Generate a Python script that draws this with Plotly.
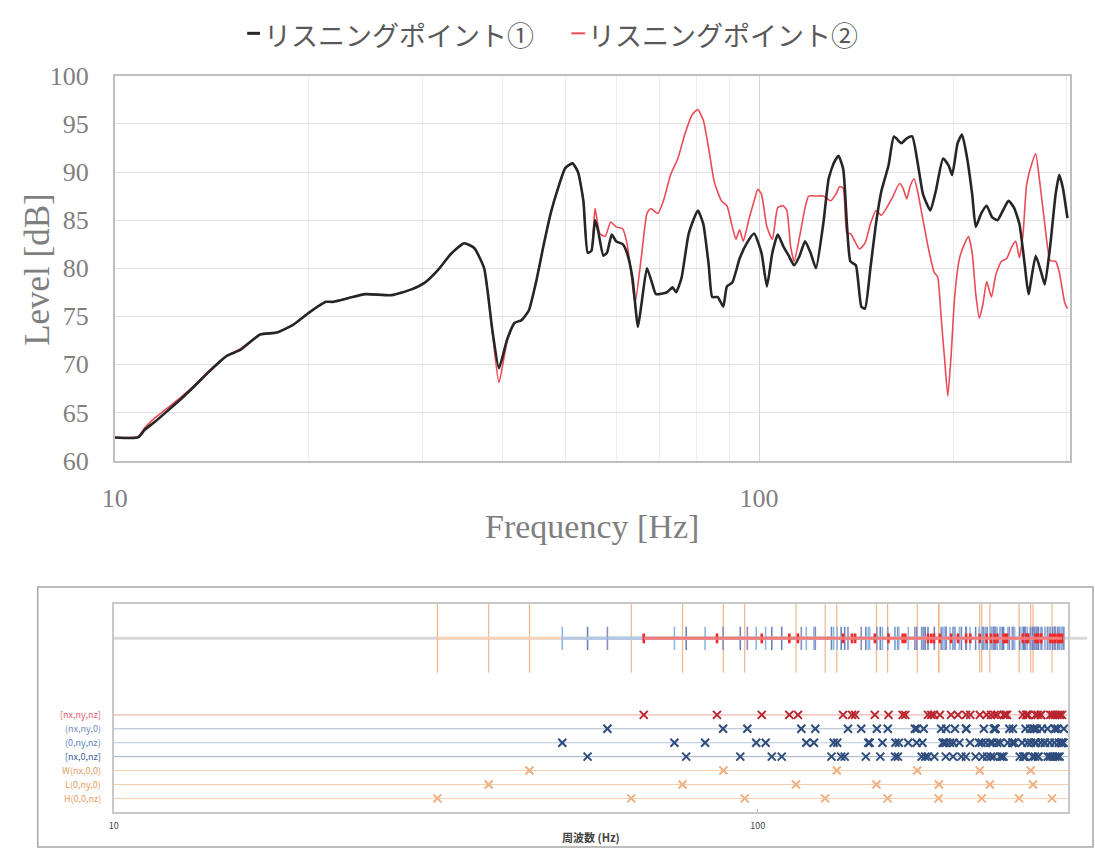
import plotly.graph_objects as go

freq_p1 = [10.0, 10.87, 11.13, 11.53, 12.09, 12.67, 13.28, 14.09, 14.94, 15.66, 16.81, 17.83, 18.91, 20.05,
           21.27, 21.77, 23.09, 24.49, 26.91, 28.88, 30.28, 31.73, 33.26, 34.87, 36.13, 37.43, 38.54, 39.47,
           40.64, 41.72, 42.79, 43.91, 45.08, 46.27, 47.48, 48.74, 50.02, 51.33, 52.35, 53.37, 54.2, 54.92,
           55.64, 56.21, 57.32, 58.06, 59.06, 59.98, 61.40, 62.36, 63.59, 64.86, 65.69, 66.98, 68.32, 69.18,
           71.94, 73.37, 74.34, 75.8, 77.77, 80.34, 81.91, 83.53, 84.6, 86.27, 87.99, 89.13, 90.87, 93.28,
           95.72, 98.24, 100.85, 102.83, 104.85, 106.91, 109.0, 111.15, 113.33, 115.6, 117.86, 120.19, 122.54,
           125.77, 128.23, 130.75, 132.82, 135.08, 136.86, 138.6, 141.3, 144.13, 146.0, 148.86, 151.83, 154.79,
           158.84, 161.92, 166.23, 169.48, 172.82, 176.2, 179.64, 184.4, 188.0, 193.0, 196.79, 199.38, 203.28,
           206.5, 210.0, 214.14, 216.92, 221.2, 225.52, 229.93, 234.46, 239.05, 243.83, 248.64, 253.51, 258.46,
           261.88, 268.72, 273.97, 277.58, 282.99, 288.58, 292.33, 296.19, 301.0]
level_p1 = [62.4, 62.4, 63.2, 64.0, 65.2, 66.4, 67.7, 69.4, 70.9, 71.5, 73.1, 73.3, 74.1, 75.4,
            76.5, 76.5, 76.9, 77.3, 77.2, 77.8, 78.5, 79.8, 81.5, 82.6, 82.1, 80.0, 73.6, 69.6,
            72.6, 74.3, 74.6, 75.6, 78.6, 82.3, 85.7, 88.3, 90.4, 90.9, 90.0, 87.0, 81.6, 81.8,
            85.0, 84.0, 81.3, 81.6, 83.5, 82.8, 82.5, 81.6, 79.0, 73.9, 76.3, 80.0, 78.3, 77.3,
            77.5, 78.0, 77.5, 79.0, 83.6, 86.0, 84.6, 80.3, 77.0, 77.0, 76.0, 78.1, 78.5, 81.0,
            82.6, 83.6, 81.6, 78.1, 81.6, 83.5, 82.3, 81.3, 80.3, 81.3, 82.8, 81.6, 80.0,
            84.6, 89.3, 91.0, 91.7, 90.3, 84.6, 80.7, 80.3, 76.0, 75.8, 80.0, 84.6, 88.0,
            90.7, 93.7, 93.0, 93.5, 93.7, 91.0, 87.7, 86.0, 88.0, 91.4, 90.7, 89.7, 93.0,
            93.9, 91.7, 87.7, 84.3, 85.7, 86.5, 85.3, 85.0, 86.0, 87.0, 86.3, 84.6, 80.3,
            77.3, 81.3, 79.6, 78.3, 82.3, 87.7, 89.7, 88.3, 85.2]

freq_p2 = [10.0, 10.87, 11.13, 11.53, 12.09, 12.67, 13.28, 14.09, 14.94, 15.66, 16.81, 17.83, 18.91, 20.05,
           21.27, 21.77, 23.09, 24.49, 26.91, 28.88, 30.28, 31.73, 33.26, 34.87, 36.13, 37.43, 38.54, 39.47,
           40.64, 41.72, 42.79, 43.91, 45.08, 46.27, 47.48, 48.74, 50.02, 51.33, 52.35, 53.37, 54.2, 54.92,
           55.64, 56.59, 57.7, 58.83, 59.98, 61.40, 62.36, 63.18, 64.18, 65.69, 66.98, 67.86, 69.67, 71.04,
           72.88, 74.8, 76.76, 78.8, 80.34, 81.91, 83.53, 85.19, 87.41, 89.13, 90.87, 92.07, 93.28, 94.51,
           96.36, 98.24, 99.54, 100.85, 102.83, 104.85, 106.91, 109.0, 110.44, 111.9, 113.33, 115.6, 117.86,
           119.37, 122.54, 125.77, 129.04, 131.6, 133.32, 135.08, 136.86, 138.6, 143.17, 146.0, 148.86, 151.83,
           154.79, 157.82, 160.9, 165.16, 167.3, 169.48, 171.72, 173.99, 176.2, 179.64, 183.23, 186.84, 189.27,
           191.68, 194.23, 196.3, 198.61, 201.14, 204.6, 208.6, 211.35, 214.14, 216.92, 219.73, 222.59, 225.52,
           229.4, 232.96, 237.56, 242.2, 246.94, 250.21, 253.51, 256.86, 260.13, 265.34, 268.72, 272.27, 277.58,
           282.99, 288.58, 292.33, 298.1, 301.0]
level_p2 = [62.4, 62.5, 63.4, 64.4, 65.5, 66.6, 67.8, 69.5, 70.9, 71.6, 73.1, 73.3, 74.1, 75.4,
            76.5, 76.5, 76.9, 77.3, 77.2, 77.8, 78.5, 79.8, 81.5, 82.6, 82.1, 80.0, 73.4, 68.1,
            72.4, 74.3, 74.6, 75.6, 78.6, 82.3, 85.7, 88.3, 90.4, 90.9, 90.0, 87.0, 81.6, 81.8,
            86.2, 83.6, 83.3, 84.8, 84.3, 84.1, 82.6, 80.0, 76.3, 81.3, 85.7, 86.2, 85.7, 87.0,
            89.7, 91.4, 94.0, 96.0, 96.5, 95.4, 92.4, 89.0, 87.0, 86.5, 84.3, 83.0, 84.0, 82.8,
            85.0, 87.0, 88.2, 87.7, 84.3, 83.0, 86.3, 86.5, 86.0, 82.3, 80.7, 83.3, 86.3,
            87.5, 87.5, 87.5, 87.0, 87.7, 88.5, 88.3, 83.6, 83.6, 82.0, 82.6, 84.6, 86.0,
            85.5, 86.3, 87.3, 88.8, 88.3, 87.2, 88.6, 89.3, 88.0, 85.0, 82.0, 79.6, 79.1,
            74.9, 70.2, 66.7, 70.9, 77.0, 81.0, 82.6, 83.3, 81.6, 77.3, 74.8, 76.3, 78.6,
            77.0, 79.3, 80.7, 81.0, 82.3, 82.8, 81.1, 83.6, 88.7, 91.0, 91.9, 89.3, 84.6,
            80.8, 80.7, 79.6, 76.4, 75.8]

name_p1 = "リスニングポイント①"
name_p2 = "リスニングポイント②"

# ---------------- bottom chart: room mode frequencies [Hz] ----------------
axial_H = [31.8, 63.6, 95.4, 127.2, 159.0, 190.8, 222.6, 254.4, 286.2]
axial_L = [38.2, 76.4, 114.6, 152.8, 191.0, 229.2, 267.4]
axial_W = [44.2, 88.4, 132.6, 176.8, 221.0, 265.2]
tang_xy = [58.4, 88.3, 122.8, 159.1, 196.0, 233.4, 271.0, 96.3, 116.8, 144.7, 176.5, 210.5, 245.7, 281.6,
           138.0, 153.0, 175.3, 202.3, 232.5, 264.8, 298.5, 180.9, 192.6, 210.7, 233.7, 260.3, 289.5,
           224.3, 233.8, 248.9, 268.7, 292.1, 267.9, 276.0, 288.9]
tang_yz = [49.7, 74.2, 102.8, 132.8, 163.5, 194.6, 225.8, 257.2, 288.7, 82.8, 99.4, 122.2, 148.4, 176.4,
           205.5, 235.3, 265.6, 296.2, 118.9, 131.1, 149.1, 171.2, 196.0, 222.6, 250.4, 279.0, 156.1, 165.5,
           180.1, 198.8, 220.5, 244.4, 270.0, 296.8, 193.6, 201.3, 213.5, 229.5, 248.5, 270.0, 293.3, 231.4,
           237.9, 248.3, 262.1, 278.9, 298.2, 269.3, 274.9, 283.9, 296.1]
tang_xz = [54.4, 77.4, 105.1, 134.7, 165.0, 195.8, 226.9, 258.2, 289.6, 93.9, 108.9, 130.1, 154.9, 181.9,
           210.3, 239.5, 269.3, 136.4, 147.1, 163.3, 183.7, 207.0, 232.3, 259.1, 286.9, 179.6, 187.9, 200.9,
           217.8, 237.8, 260.1, 284.3, 223.3, 230.0, 240.7, 255.0, 272.2, 292.0, 267.1, 272.7, 281.8, 294.1]
oblique = [66.5, 86.4, 111.9, 140.0, 169.4, 199.5, 230.1, 261.0, 292.1, 101.4, 115.4, 135.6, 159.5, 185.9,
           213.7, 242.5, 272.0, 141.6, 151.9, 167.8, 187.7, 210.5, 235.5, 261.9, 289.4, 183.7, 191.7, 204.5,
           221.1, 240.8, 262.9, 286.8, 226.5, 233.1, 243.7, 257.8, 274.9, 294.5, 269.8, 275.4, 284.4, 296.6]

row_labels = ["[nx,ny,nz]", "(nx,ny,0)", "(0,ny,nz)", "[nx,0,nz]", "W(nx,0,0)", "L(0,ny,0)", "H(0,0,nz)"]

# ---------------- layout helpers (positions / styles) ----------------
W, H = 1095, 865
def px(x):
    return x / W
def py(y):
    return 1 - y / H

SERIF = "Liberation Serif, Times New Roman, serif"
JP = "Noto Sans CJK JP, sans-serif"
GRAY_TXT = "#7F7F7F"

row_pos = {"obl": 7, "xy": 6, "yz": 5, "xz": 4, "W": 3, "L": 2, "H": 1}
strip_y = 12.5

C_OBL_MK = "#B8252F"
C_TAN_MK = "#2E4C7C"
C_AX_MK = "#EDB183"

fig = go.Figure()

# top chart curves
fig.add_trace(go.Scatter(x=freq_p2, y=level_p2, mode="lines", name=name_p2,
                         line=dict(color="#EC4A55", width=1.6, shape="spline", smoothing=0.5),
                         xaxis="x", yaxis="y", showlegend=False))
fig.add_trace(go.Scatter(x=freq_p1, y=level_p1, mode="lines", name=name_p1,
                         line=dict(color="#262626", width=2.6, shape="spline", smoothing=0.5),
                         xaxis="x", yaxis="y", showlegend=False))

# bottom chart: strip of mode lines
def strip(xs, color_line, lw, color_bar, half, thick):
    fig.add_trace(go.Scatter(x=sorted(xs), y=[strip_y] * len(xs), mode="lines",
                             line=dict(color=color_line, width=lw),
                             error_y=dict(type="constant", value=half, width=0,
                                          color=color_bar, thickness=thick),
                             xaxis="x2", yaxis="y2", showlegend=False, hoverinfo="x"))

strip(axial_H + axial_L + axial_W, "#F8D2B4", 2.5, "#F2B48A", 2.45, 1.2)
strip(tang_xz, "#B4C9E4", 3, "#6A86B8", 0.83, 1.6)
strip(tang_yz, "#B4C9E4", 3, "#8DB8E4", 0.83, 1.6)
strip(tang_xy, "#B4C9E4", 3, "#8C8CC0", 0.83, 1.6)
strip(oblique, "#F47A7A", 3, "#F02828", 0.35, 2.6)

# bottom chart: rows of x markers
def row(xs, key, color):
    fig.add_trace(go.Scatter(x=xs, y=[row_pos[key]] * len(xs), mode="markers",
                             marker=dict(symbol="x-thin", size=8,
                                         line=dict(color=color, width=2)),
                             xaxis="x2", yaxis="y2", showlegend=False, hoverinfo="x"))

row(oblique, "obl", C_OBL_MK)
row(tang_xy, "xy", C_TAN_MK)
row(tang_yz, "yz", C_TAN_MK)
row(tang_xz, "xz", C_TAN_MK)
row(axial_W, "W", C_AX_MK)
row(axial_L, "L", C_AX_MK)
row(axial_H, "H", C_AX_MK)

shapes = []
# legend dashes
shapes.append(dict(type="line", xref="paper", yref="paper", x0=px(237), x1=px(250), y0=py(20), y1=py(20),
                   line=dict(color="#262626", width=3)))
shapes.append(dict(type="line", xref="paper", yref="paper", x0=px(565), x1=px(579), y0=py(20), y1=py(20),
                   line=dict(color="#EC4A55", width=2)))
# bottom chart outer frame
shapes.append(dict(type="rect", xref="paper", yref="paper", x0=px(25), x1=px(1093), y0=py(862), y1=py(593),
                   line=dict(color="#A6A6A6", width=1.5), layer="below"))
# strip base line
shapes.append(dict(type="line", xref="paper", yref="y2", x0=px(102), x1=px(1087), y0=strip_y, y1=strip_y,
                   line=dict(color="#D9D9D9", width=3), layer="below"))
# row guide lines
row_line_colors = {"obl": "#F2A0A0", "xy": "#A9B8CF", "yz": "#B4C7E0", "xz": "#9FB0C8",
                   "W": "#F6CDAA", "L": "#F6CDAA", "H": "#F6CDAA"}
for k, c in row_line_colors.items():
    shapes.append(dict(type="line", xref="x2 domain", yref="y2", x0=0, x1=1, y0=row_pos[k], y1=row_pos[k],
                       line=dict(color=c, width=1), layer="below"))

annotations = []
annotations.append(dict(x=px(252), y=py(21), xref="paper", yref="paper", text=name_p1, showarrow=False,
                        xanchor="left", yanchor="middle", font=dict(family=JP, size=27, color="#595959")))
annotations.append(dict(x=px(580), y=py(21), xref="paper", yref="paper", text=name_p2, showarrow=False,
                        xanchor="left", yanchor="middle", font=dict(family=JP, size=27, color="#595959")))
annotations.append(dict(x=px(24), y=py(264), xref="paper", yref="paper", text="Level [dB]", showarrow=False,
                        textangle=-90, xanchor="center", yanchor="middle",
                        font=dict(family=SERIF, size=35, color=GRAY_TXT)))
annotations.append(dict(x=px(586), y=py(530), xref="paper", yref="paper", text="Frequency [Hz]",
                        showarrow=False, xanchor="center", yanchor="middle",
                        font=dict(family=SERIF, size=34, color=GRAY_TXT)))
annotations.append(dict(x=px(585), y=py(852), xref="paper", yref="paper", text="<b>周波数 (Hz)</b>",
                        showarrow=False, xanchor="center", yanchor="middle",
                        font=dict(family=JP, size=11, color="#404040")))
label_colors = ["#E35D6E", "#6F8CB2", "#5B82C2", "#3A5B9A", "#E39A5C", "#E39A5C", "#E39A5C"]
label_keys = ["obl", "xy", "yz", "xz", "W", "L", "H"]
for lab, col, k in zip(row_labels, label_colors, label_keys):
    annotations.append(dict(x=px(91), y=row_pos[k], xref="paper", yref="y2", text=lab, showarrow=False,
                            xanchor="right", yanchor="middle", font=dict(family=JP, size=9, color=col)))

fig.update_layout(
    width=W, height=H, margin=dict(l=0, r=0, t=0, b=0),
    paper_bgcolor="white", plot_bgcolor="white",
    shapes=shapes, annotations=annotations, showlegend=False,
    xaxis=dict(type="log", range=[1, 2.483], domain=[px(103), px(1070)], anchor="y",
               tickvals=[10, 100], ticktext=["10", "100"], ticks="", ticklabelstandoff=14,
               tickfont=dict(family=SERIF, size=26, color=GRAY_TXT),
               showgrid=True, gridcolor="#D5D5D5", gridwidth=1,
               minor=dict(tickvals=[20, 30, 40, 50, 60, 70, 80, 90, 200, 300], showgrid=True,
                          gridcolor="#ECECEC", gridwidth=1, ticks=""),
               showline=True, mirror=True, linecolor="#BFBFBF", linewidth=1.5, zeroline=False),
    yaxis=dict(range=[60, 100], domain=[py(462), py(64)], anchor="x", dtick=5, ticks="",
               ticklabelstandoff=19, tickfont=dict(family=SERIF, size=26, color=GRAY_TXT),
               showgrid=True, gridcolor="#E3E3E3", gridwidth=1,
               showline=True, mirror=True, linecolor="#BFBFBF", linewidth=1.5, zeroline=False),
    xaxis2=dict(type="log", range=[1, 2.482], domain=[px(102), px(1068)], anchor="y2",
                tickvals=[10, 100], ticktext=["10", "100"], ticks="inside", ticklen=3, tickcolor="#BFBFBF",
                ticklabelstandoff=4, tickfont=dict(family=JP, size=9, color="#404040"),
                showgrid=False, showline=True, mirror=True, linecolor="#C8C8C8", linewidth=2, zeroline=False),
    yaxis2=dict(range=[0, 15], domain=[py(826), py(610)], anchor="x2", showticklabels=False, ticks="",
                showgrid=False, showline=True, mirror=True, linecolor="#C8C8C8", linewidth=2, zeroline=False),
)

fig.write_html("out.html", config={"displayModeBar": False},
               post_script="document.body.style.margin='0px';")
